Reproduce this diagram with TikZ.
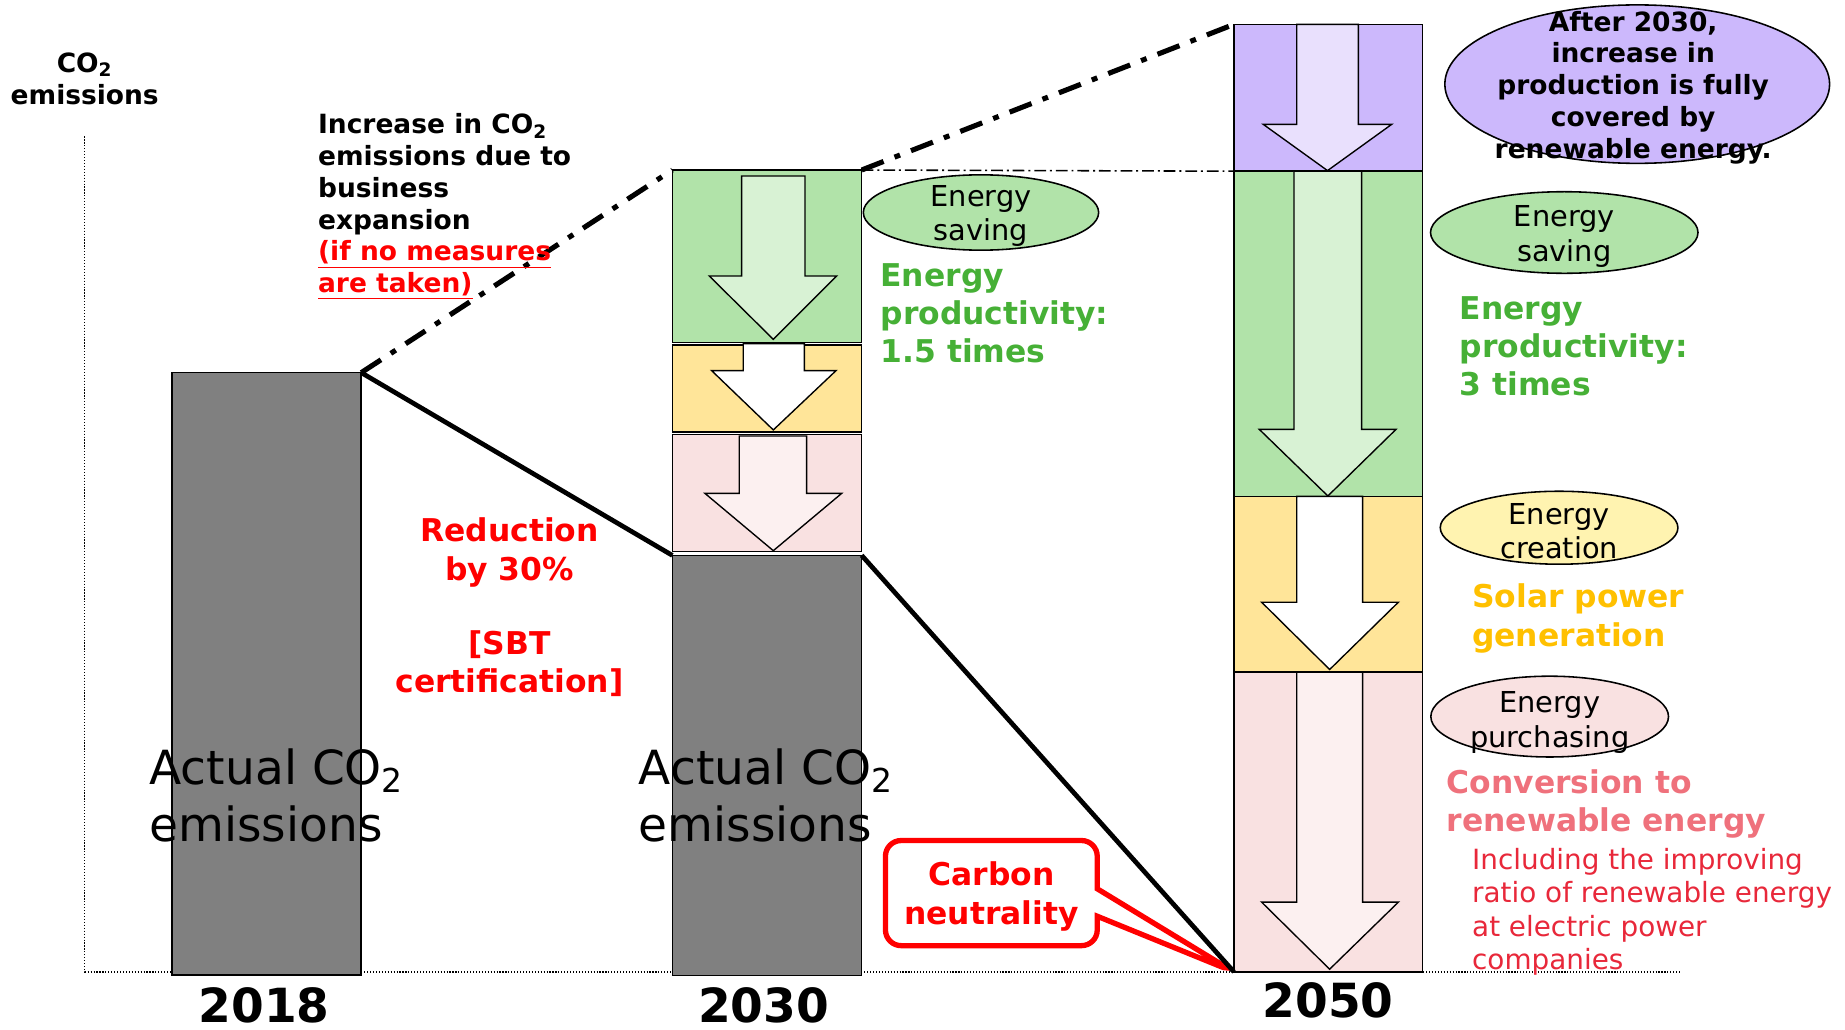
\documentclass[tikz,border=0pt]{standalone}
\usepackage{fontspec}
\setmainfont{DejaVu Sans}
\usetikzlibrary{shapes.geometric,shapes.callouts}

\definecolor{bargray}{HTML}{808080}
\definecolor{savegreen}{HTML}{B1E3A9}
\definecolor{savearrow}{HTML}{D8F2D4}
\definecolor{createyellow}{HTML}{FFE599}
\definecolor{buypink}{HTML}{F9E1E1}
\definecolor{buyarrow}{HTML}{FCF0F0}
\definecolor{growpurple}{HTML}{CCB8FC}
\definecolor{growarrow}{HTML}{E9E0FD}
\definecolor{ovalyellow}{HTML}{FFF3B0}
\definecolor{textgreen}{HTML}{46B036}
\definecolor{textgold}{HTML}{FFC000}
\definecolor{textpink}{HTML}{EF717C}
\definecolor{notered}{HTML}{E8283A}

% block arrow: fill, shaft left, shaft right, top, head y, head left, head right, tip x, tip y
\newcommand{\blockarrow}[9]{%
  \filldraw[arrowline, fill=#1] (#2,#4) -- (#3,#4) -- (#3,#5) -- (#7,#5)
    -- (#8,#9) -- (#6,#5) -- (#2,#5) -- cycle;}

\tikzset{
  block/.style={draw=black, line width=0.8pt},
  arrowline/.style={draw=black, line width=0.7pt, line join=miter},
  axisline/.style={line width=0.6pt, dash pattern=on 0.6pt off 0.9pt},
  trendline/.style={line width=2.4pt},
  nomeasure/.style={line width=2.6pt, dash pattern=on 12pt off 6pt on 3pt off 6pt},
  levelline/.style={line width=0.8pt, dash pattern=on 6pt off 2pt on 1pt off 2pt},
  oval/.style={ellipse, draw=black, line width=0.8pt, inner sep=0pt},
  ovaltext/.style={align=center, inner sep=0pt, font=\fontsize{14.7}{17.7}\selectfont},
  bigtext/.style={align=left, inner sep=0pt, font=\fontsize{24}{28.6}\selectfont},
  yeartext/.style={inner sep=0pt, font=\fontsize{24}{28}\selectfont\bfseries},
  medbold/.style={inner sep=0pt, font=\fontsize{16}{19.5}\selectfont\bfseries},
  smallbold/.style={inner sep=0pt, font=\fontsize{13.5}{16.2}\selectfont\bfseries},
  notetext/.style={align=left, inner sep=0pt, text=notered, font=\fontsize{14.2}{17.1}\selectfont},
}

\begin{document}
\begin{tikzpicture}[x=0.6pt, y=-0.6pt]
\useasboundingbox (0,0) rectangle (1568,875);

% axes
\coordinate (axtop) at (72,116);
\coordinate (axorig) at (72,826);
\coordinate (axend) at (1428,826);
\draw[axisline] (axtop) -- (axorig) -- (axend);
\node[smallbold, align=center] (axlabel) at (72,67) {CO\textsubscript{2}\\emissions};

% corners used by the lines
\coordinate (top18) at (307,316.7);
\coordinate (top30l) at (571.4,144.5);
\coordinate (top30r) at (732.3,144.5);
\coordinate (gray30l) at (571.4,472);
\coordinate (gray30r) at (732.3,472);
\coordinate (top50l) at (1048.7,20.7);
\coordinate (mid50l) at (1048.7,145.5);
\coordinate (foot50) at (1048.7,826);

% 2018
\filldraw[block, fill=bargray] (146.4,316.7) rectangle (307,828.5);

% 2030
\filldraw[block, fill=bargray] (571.4,472) rectangle (732.3,829);
\filldraw[block, fill=buypink] (571.4,369.1) rectangle (732.3,468.8);
\filldraw[block, fill=createyellow] (571.4,293.2) rectangle (732.3,366.9);
\filldraw[block, fill=savegreen] (571.4,144.5) rectangle (732.3,291.2);
\blockarrow{savearrow}{630.3}{684.1}{149.6}{234.6}{602.8}{711.0}{657.2}{288.4}
\blockarrow{white}{631.7}{683.6}{292}{315}{604.8}{710.5}{657.2}{365.4}
\blockarrow{buyarrow}{628.3}{685.5}{370.5}{419.3}{599.1}{715.3}{657.2}{468}

% 2050
\filldraw[block, fill=growpurple] (1048.7,20.7) rectangle (1208.8,145.5);
\filldraw[block, fill=savegreen] (1048.7,145.5) rectangle (1208.8,421.9);
\filldraw[block, fill=createyellow] (1048.7,421.9) rectangle (1208.8,571.2);
\filldraw[block, fill=buypink] (1048.7,571.2) rectangle (1208.8,826);
\blockarrow{growarrow}{1102}{1154.4}{20.7}{105.7}{1073.6}{1182.7}{1128.2}{145}
\blockarrow{savearrow}{1099.7}{1157.2}{145.5}{364.9}{1070.2}{1186.4}{1128.5}{421.5}
\blockarrow{white}{1102}{1158}{421.9}{511.8}{1072.2}{1188.4}{1130}{569}
\blockarrow{buyarrow}{1102}{1158}{571.2}{766.7}{1072.2}{1188.4}{1130}{823.7}

% lines
\draw[nomeasure] (top18) -- (top30l);
\draw[nomeasure] (top30r) -- (top50l);
\draw[levelline] (top30r) -- (mid50l);

% carbon neutrality
\node[rectangle callout, draw=red, line width=2.7pt, rounded corners=8pt, fill=white,
  minimum width=108pt, minimum height=53.6pt, inner sep=0pt, text depth=0pt,
  callout absolute pointer={(foot50)}, callout pointer width=14pt,
  medbold, align=center, text=red] (cneutral) at (842.5,759) {Carbon\\neutrality};

\draw[trendline] (top18) -- (gray30l);
\draw[trendline] (gray30r) -- (foot50);

% bar texts
\node[bigtext, anchor=west] (act18) at (126.8,676) {Actual CO\textsubscript{2}\\emissions};
\node[bigtext, anchor=west] (act30) at (542.5,676) {Actual CO\textsubscript{2}\\emissions};
\node[yeartext] (y18) at (224.4,854) {2018};
\node[yeartext] (y30) at (648.9,854) {2030};
\node[yeartext] (y50) at (1128.7,850) {2050};

% left side notes
\node[smallbold, anchor=west, align=left] (growtxt) at (270,175.8)
  {Increase in CO\textsubscript{2}\\emissions due to\\business\\expansion\\
   \textcolor{red}{\underline{(if no measures}}\\\textcolor{red}{\underline{are taken)}}};
\node[medbold, align=center, text=red] (cut30) at (433,469.5) {Reduction\\by 30\%};
\node[medbold, align=center, text=red] (sbt) at (433,564) {[SBT\\certification]};

% 2030 side
\node[oval, fill=savegreen, minimum width=120pt, minimum height=38.4pt] (save30) at (833.7,180.6) {};
\node[ovaltext] (save30txt) at (833.7,183.5) {Energy\\saving};
\node[medbold, anchor=west, align=left, text=textgreen] (prod30) at (748,266.2)
  {Energy\\productivity:\\1.5 times};

% 2050 side
\node[oval, fill=growpurple, minimum width=196.2pt, minimum height=80.8pt] (after30) at (1391.4,71.5) {};
\node[smallbold, align=center] (after30txt) at (1388,74.4)
  {After 2030,\\increase in\\production is fully\\covered by\\renewable energy.};
\node[oval, fill=savegreen, minimum width=136.4pt, minimum height=41.6pt] (save50) at (1329.4,197.6) {};
\node[ovaltext] (save50txt) at (1329.4,201) {Energy\\saving};
\node[medbold, anchor=west, align=left, text=textgreen] (prod50) at (1240.2,294.5)
  {Energy\\productivity:\\3 times};
\node[oval, fill=ovalyellow, minimum width=121.2pt, minimum height=37.2pt] (create50) at (1325,448.5) {};
\node[ovaltext] (create50txt) at (1325,451.4) {Energy\\creation};
\node[medbold, anchor=west, align=left, text=textgold] (solar) at (1250.8,525.6)
  {Solar power\\generation};
\node[oval, fill=buypink, minimum width=121.2pt, minimum height=41.2pt] (buy50) at (1317,609) {};
\node[ovaltext] (buy50txt) at (1317,614) {Energy\\purchasing};
\node[medbold, anchor=west, align=left, text=textpink] (convert) at (1229.2,683.3)
  {Conversion to\\renewable energy};
\node[notetext, anchor=west] (ratio) at (1250.8,774.8)
  {Including the improving\\ratio of renewable energy\\at electric power\\companies};

\end{tikzpicture}
\end{document}
